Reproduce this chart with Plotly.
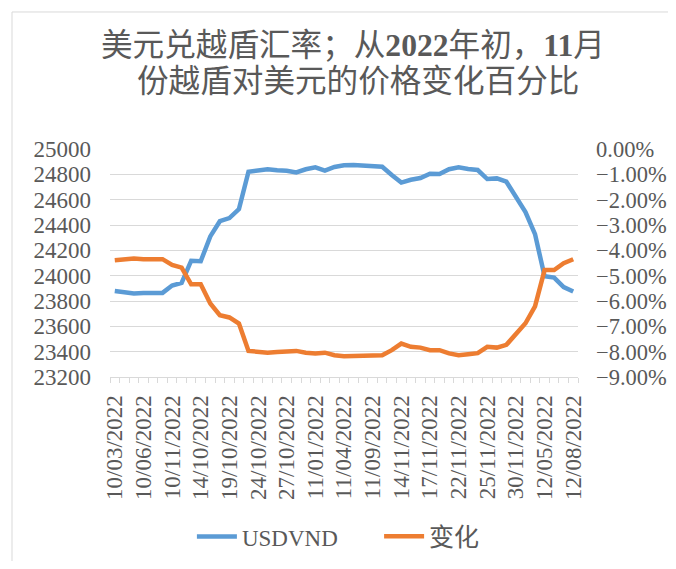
import plotly.graph_objects as go

# trading days, label format as shown in the source chart
dates = ['10/03/2022', '10/04/2022', '10/05/2022', '10/06/2022', '10/07/2022', '10/10/2022',
         '10/11/2022', '10/12/2022', '13/10/2022', '14/10/2022', '17/10/2022', '18/10/2022',
         '19/10/2022', '20/10/2022', '21/10/2022', '24/10/2022', '25/10/2022', '26/10/2022',
         '27/10/2022', '28/10/2022', '31/10/2022', '11/01/2022', '11/02/2022', '11/03/2022',
         '11/04/2022', '11/07/2022', '11/08/2022', '11/09/2022', '11/10/2022', '11/11/2022',
         '14/11/2022', '15/11/2022', '16/11/2022', '17/11/2022', '18/11/2022', '21/11/2022',
         '22/11/2022', '23/11/2022', '24/11/2022', '25/11/2022', '28/11/2022', '29/11/2022',
         '30/11/2022', '12/01/2022', '12/02/2022', '12/05/2022', '12/06/2022', '12/07/2022',
         '12/08/2022']

usdvnd = [23879, 23872, 23860, 23863, 23866, 23864, 23922, 23943, 24118, 24114,
          24310, 24430, 24455, 24525, 24821, 24828, 24840, 24832, 24828, 24815,
          24840, 24855, 24830, 24858, 24871, 24874, 24871, 24862, 24860, 24795,
          24735, 24757, 24771, 24805, 24802, 24840, 24855, 24842, 24834, 24763,
          24768, 24742, 24628, 24502, 24328, 23995, 23985, 23910, 23875]

change = [-0.0439, -0.0436, -0.0432, -0.0435, -0.0436, -0.0435, -0.0458, -0.0468, -0.0534, -0.0534,
          -0.0610, -0.0656, -0.0665, -0.0689, -0.0797, -0.0801, -0.0804, -0.0801, -0.0800, -0.0797,
          -0.0804, -0.0807, -0.0804, -0.0814, -0.0818, -0.0818, -0.0817, -0.0814, -0.0814, -0.0794,
          -0.0768, -0.0781, -0.0784, -0.0794, -0.0794, -0.0807, -0.0814, -0.0810, -0.0806, -0.0781,
          -0.0784, -0.0773, -0.0733, -0.0688, -0.0621, -0.0478, -0.0478, -0.0451, -0.0435]

idx = list(range(len(dates)))
FONT = "Liberation Serif, Times New Roman, Noto Sans CJK SC, serif"
GREY = "#595959"
GRID = "#d9d9d9"
FS = 23

fig = go.Figure()
fig.add_trace(go.Scatter(x=idx, y=usdvnd, name="USDVND", mode="lines",
                         line=dict(color="#5B9BD5", width=4.5), yaxis="y", legend="legend"))
fig.add_trace(go.Scatter(x=idx, y=change, name="变化", mode="lines",
                         line=dict(color="#ED7D31", width=4.5), yaxis="y2", legend="legend2"))

legend_style = dict(orientation="h", y=-0.70, yanchor="middle", xanchor="left",
                    itemwidth=40, bgcolor="rgba(0,0,0,0)")

# page body has an 8px margin, so the figure is sized to fit inside the window
fig.update_layout(
    width=660, height=553,
    margin=dict(l=102, r=90, t=141, b=184, autoexpand=False),
    paper_bgcolor="white", plot_bgcolor="white",
    font=dict(family=FONT, size=FS, color=GREY),
    showlegend=True,
    legend=dict(x=0.175, font=dict(family=FONT, size=FS, color=GREY), **legend_style),
    legend2=dict(x=0.575, font=dict(family=FONT, size=25, color=GREY), **legend_style),
    xaxis=dict(range=[-0.5, len(dates) - 0.5], tickvals=idx[::3], ticktext=dates[::3],
               tickangle=-90, ticks="", showgrid=False, zeroline=False, automargin=False,
               showline=True, linecolor=GRID, linewidth=1, ticklabelstandoff=8,
               minor=dict(ticks="outside", tick0=-0.5, dtick=1, ticklen=5,
                          tickcolor=GRID, showgrid=False),
               tickfont=dict(family=FONT, size=FS, color=GREY)),
    yaxis=dict(range=[23200, 25000], dtick=200, tickformat="d", showgrid=True,
               gridcolor=GRID, gridwidth=1, automargin=False,
               zeroline=False, showline=False, ticks="", ticklabelstandoff=18,
               tickfont=dict(family=FONT, size=FS, color=GREY)),
    yaxis2=dict(range=[-0.09, 0], dtick=0.01, tickformat=".2%", overlaying="y", side="right",
                showgrid=False, zeroline=False, showline=False, ticks="", ticklabelstandoff=17,
                automargin=False, tickfont=dict(family=FONT, size=22.5, color=GREY)),
)

fig.add_annotation(xref="paper", yref="paper", x=0.519, y=1.456, xanchor="center", yanchor="middle",
                   text="美元兑越盾汇率；从<b>2022</b>年初，<b>11</b>月",
                   showarrow=False, font=dict(size=31.6, color=GREY, family=FONT))
fig.add_annotation(xref="paper", yref="paper", x=0.529, y=1.294, xanchor="center", yanchor="middle",
                   text="份越盾对美元的价格变化百分比",
                   showarrow=False, font=dict(size=31.6, color=GREY, family=FONT))

# chart border: top edge and left edge
fig.add_shape(type="line", xref="paper", yref="paper", x0=-0.2094, y0=1.601, x1=1.3, y1=1.601,
              line=dict(color=GRID, width=1), layer="below")
fig.add_shape(type="line", xref="paper", yref="paper", x0=-0.2094, y0=-0.9, x1=-0.2094, y1=1.601,
              line=dict(color=GRID, width=1), layer="below")

fig.write_html("out.html")
